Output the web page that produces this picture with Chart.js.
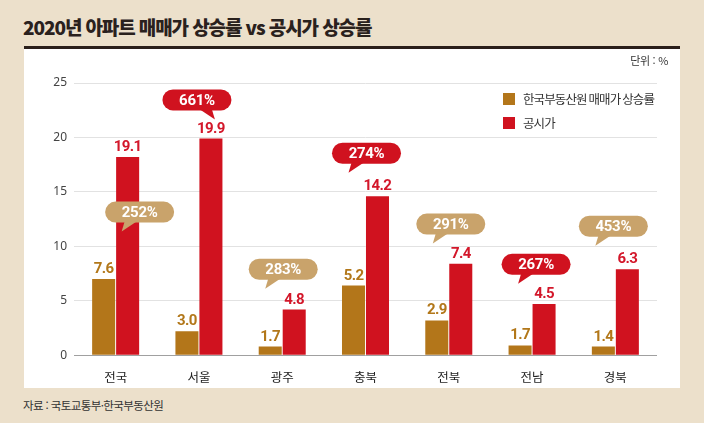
<!DOCTYPE html>
<html lang="ko">
<head>
<meta charset="UTF-8">
<title>2020년 아파트 매매가 상승률 vs 공시가 상승률</title>
<script src="https://cdn.jsdelivr.net/npm/chart.js"></script>
<style>
    body { margin: 0; width: 704px; height: 423px; background: #ECE0CB; position: relative; overflow: hidden; font-family: 'Noto Sans CJK KR', sans-serif; }
    .title { position: absolute; left: 23px; top: 14px; font-size: 19px; font-weight: 900; color: #2a211d; letter-spacing: -1.1px; line-height: 25px; }
    .rule { position: absolute; left: 24px; top: 46px; width: 656px; height: 3px; background: #2a1f1a; }
    .panel { position: absolute; left: 24px; top: 49px; width: 656px; height: 339px; background: #fff; }
    .unit { position: absolute; right: 12px; top: 3px; font-size: 11px; color: #333; letter-spacing: -0.3px; }
    .source { position: absolute; left: 23px; top: 398px; font-size: 11.5px; color: #333; letter-spacing: -0.6px; line-height: 14px; }
</style>
</head>
<body>
    <div class="title">2020년 아파트 매매가 상승률 vs 공시가 상승률</div>
    <div class="rule"></div>
    <div class="panel">
        <canvas id="chart"></canvas>
        <div class="unit">단위 : %</div>
    </div>
    <div class="source">자료 : 국토교통부·한국부동산원</div>

<script>
// regions
const regions = ['전국', '서울', '광주', '충북', '전북', '전남', '경북'];
const seriesNames = ['한국부동산원 매매가 상승률', '공시가'];

// printed values above the bars
const saleLabels = ['7.6', '3.0', '1.7', '5.2', '2.9', '1.7', '1.4'];
const officialLabels = ['19.1', '19.9', '4.8', '14.2', '7.4', '4.5', '6.3'];

// bar heights as drawn in the graphic (not quite the printed numbers)
const saleBars = [7.0, 2.2, 0.8, 6.4, 3.2, 0.9, 0.8];
const officialBars = [18.2, 19.9, 4.2, 14.6, 8.4, 4.7, 7.9];

// gap ratio bubbles (which series colour each one uses)
const bubbleText = ['252%', '661%', '283%', '274%', '291%', '267%', '453%'];
const bubbleSeries = [0, 1, 0, 1, 0, 1, 0];

// y axis ticks
const yTicks = [0, 5, 10, 15, 20, 25];

// bubble placement: value-axis height of the bubble centre, x shift in px, tail side
const bubbleLayout = [
    { y: 13.15, dx: 24, tail: 'left' },
    { y: 23.45, dx: -2, tail: 'right' },
    { y: 7.9, dx: 1, tail: 'left' },
    { y: 18.55, dx: 1, tail: 'left' },
    { y: 12.05, dx: 2, tail: 'left' },
    { y: 8.35, dx: 4, tail: 'left' },
    { y: 11.85, dx: -2, tail: 'left' }
];

const BROWN = '#B3761A';
const RED = '#D0121F';
const TAN = '#C9A36B';
const labelColors = ['#B27719', '#D3172A'];
const bubbleColors = [TAN, RED];
const NUM_FONT = "bold 15px Roboto, 'Liberation Sans', sans-serif";

function roundedBubble(ctx, cx, cy, w, h, tail) {
    const x = cx - w / 2, y = cy - h / 2, r = h / 2;
    ctx.beginPath();
    ctx.moveTo(x + r, y);
    ctx.lineTo(x + w - r, y);
    ctx.arc(x + w - r, y + r, r, -Math.PI / 2, Math.PI / 2);
    ctx.lineTo(x + r, y + h);
    ctx.arc(x + r, y + r, r, Math.PI / 2, Math.PI * 1.5);
    ctx.closePath();
    ctx.fill();
    const b = y + h - 1;
    ctx.beginPath();
    if (tail === 'left') {
        ctx.moveTo(cx - 15, b);
        ctx.lineTo(cx - 3, b);
        ctx.lineTo(cx - 18, b + 10);
    } else {
        ctx.moveTo(cx + 15, b);
        ctx.lineTo(cx + 3, b);
        ctx.lineTo(cx + 18, b + 10);
    }
    ctx.closePath();
    ctx.fill();
}

const overlay = {
    id: 'overlay',
    afterDatasetsDraw(chart) {
        const ctx = chart.ctx;
        const yScale = chart.scales.y;
        const area = chart.chartArea;
        const texts = [saleLabels, officialLabels];

        ctx.save();
        ctx.font = NUM_FONT;
        ctx.letterSpacing = '-0.6px';
        ctx.textAlign = 'center';
        ctx.textBaseline = 'alphabetic';

        // value labels
        chart.data.datasets.forEach((ds, d) => {
            chart.getDatasetMeta(d).data.forEach((bar, i) => {
                ctx.fillStyle = labelColors[d];
                ctx.fillText(texts[d][i], bar.x, bar.y - 6);
            });
        });

        // speech bubbles
        const m0 = chart.getDatasetMeta(0).data;
        const m1 = chart.getDatasetMeta(1).data;
        ctx.letterSpacing = '-0.3px';
        bubbleText.forEach((t, i) => {
            const L = bubbleLayout[i];
            const cx = (m0[i].x + m1[i].x) / 2 + L.dx;
            const cy = yScale.getPixelForValue(L.y);
            ctx.fillStyle = bubbleColors[bubbleSeries[i]];
            roundedBubble(ctx, cx, cy, 69, 21, L.tail);
            ctx.fillStyle = '#fff';
            ctx.textBaseline = 'middle';
            ctx.fillText(t, cx, cy + 1);
        });

        // legend inside the plot
        ctx.letterSpacing = '-0.9px';
        ctx.textAlign = 'left';
        ctx.textBaseline = 'middle';
        ctx.font = "12.5px 'Noto Sans CJK KR', sans-serif";
        const lx = area.right - 154;
        const ly = area.top + 10;
        chart.data.datasets.forEach((ds, d) => {
            ctx.fillStyle = ds.backgroundColor;
            ctx.fillRect(lx, ly + d * 24, 12, 12);
            ctx.fillStyle = '#333';
            ctx.fillText(ds.label, lx + 20, ly + d * 24 + 6);
        });
        ctx.restore();
    }
};

new Chart(document.getElementById('chart'), {
    type: 'bar',
    data: {
        labels: regions,
        datasets: [
            { label: seriesNames[0], data: saleBars, backgroundColor: BROWN },
            { label: seriesNames[1], data: officialBars, backgroundColor: RED }
        ]
    },
    options: {
        responsive: true,
        maintainAspectRatio: false,
        animation: false,
        datasets: { bar: { categoryPercentage: 0.576, barPercentage: 0.96 } },
        layout: { padding: { top: 34, right: 23, left: 0, bottom: 0 } },
        plugins: {
            legend: { display: false },
            tooltip: { enabled: false }
        },
        scales: {
            x: {
                grid: { display: false },
                border: { display: false },
                ticks: { color: '#222', padding: 6, font: { family: "'Noto Sans CJK KR', sans-serif", size: 12.5 } },
                afterFit(scale) { scale.height = 32.7; }
            },
            y: {
                min: 0,
                max: 25,
                afterBuildTicks(scale) { scale.ticks = yTicks.map(v => ({ value: v })); },
                grid: {
                    drawTicks: false,
                    color: ctx => ctx.tick && ctx.tick.value === 0 ? '#a0a0a0' : '#e2e2e2'
                },
                border: { display: false },
                ticks: { color: '#444', padding: 7, font: { family: "'Noto Sans', sans-serif", size: 12 } },
                afterFit(scale) { scale.width = 50; }
            }
        }
    },
    plugins: [overlay]
});
</script>
</body>
</html>
